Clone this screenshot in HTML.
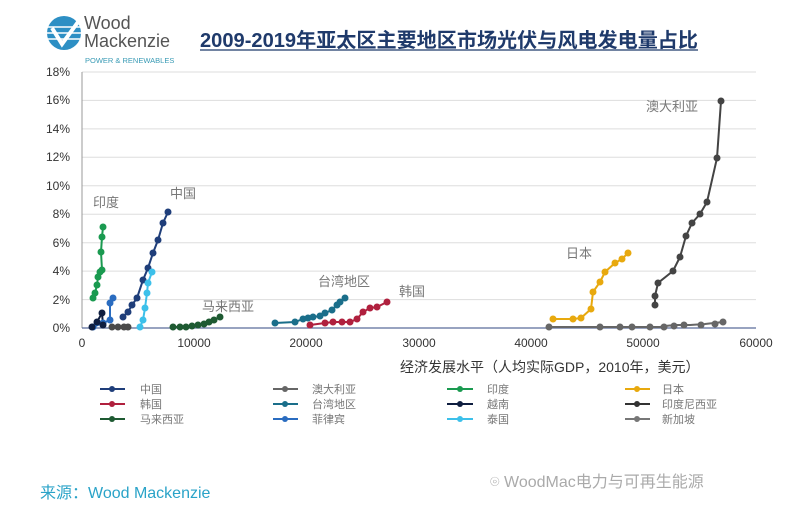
<!DOCTYPE html>
<html><head><meta charset="utf-8"><style>
body{margin:0;background:#fff;}
svg text{font-family:"Liberation Sans","Noto Sans CJK SC",sans-serif;}
</style></head><body>
<svg width="800" height="525" viewBox="0 0 800 525" xmlns="http://www.w3.org/2000/svg">
<rect width="800" height="525" fill="#fff"/>
<circle cx="64" cy="33" r="17" fill="#2d8fc4"/>
<g stroke="#fff" stroke-width="1.5"><line x1="47" y1="27" x2="81" y2="27"/><line x1="47" y1="33" x2="81" y2="33"/><line x1="48" y1="39" x2="80" y2="39"/></g>
<path d="M52 28 L62 44 L78 22" stroke="#fff" stroke-width="4" fill="none"/>
<text x="84" y="29" font-size="18" fill="#555">Wood</text>
<text x="84" y="47" font-size="18" fill="#555">Mackenzie</text>
<text x="85" y="63" font-size="7.5" fill="#3a9bb5">POWER &amp; RENEWABLES</text>
<text x="200" y="47" font-size="20" font-weight="bold" fill="#1f3a6b" textLength="498" lengthAdjust="spacingAndGlyphs">2009-2019年亚太区主要地区市场光伏与风电发电量占比</text>
<line x1="200" y1="50" x2="698" y2="50" stroke="#1f3a6b" stroke-width="1.2"/>
<g stroke="#ddd" stroke-width="1">
<line x1="82" y1="72" x2="756" y2="72"/><line x1="82" y1="100.4" x2="756" y2="100.4"/><line x1="82" y1="128.9" x2="756" y2="128.9"/><line x1="82" y1="157.3" x2="756" y2="157.3"/><line x1="82" y1="185.8" x2="756" y2="185.8"/><line x1="82" y1="214.2" x2="756" y2="214.2"/><line x1="82" y1="242.7" x2="756" y2="242.7"/><line x1="82" y1="271.1" x2="756" y2="271.1"/><line x1="82" y1="299.6" x2="756" y2="299.6"/>
</g>
<line x1="82" y1="72" x2="82" y2="328" stroke="#999"/>
<line x1="82" y1="328" x2="756" y2="328" stroke="#5a6c9a" stroke-width="1.2"/>
<g font-size="12" fill="#333" text-anchor="end">
<text x="70" y="76">18%</text><text x="70" y="104">16%</text><text x="70" y="133">14%</text><text x="70" y="161">12%</text><text x="70" y="190">10%</text><text x="70" y="218">8%</text><text x="70" y="247">6%</text><text x="70" y="275">4%</text><text x="70" y="304">2%</text><text x="70" y="332">0%</text>
</g>
<g font-size="12" fill="#333" text-anchor="middle">
<text x="82" y="347">0</text><text x="194" y="347">10000</text><text x="306" y="347">20000</text><text x="419" y="347">30000</text><text x="531" y="347">40000</text><text x="643" y="347">50000</text><text x="756" y="347">60000</text>
</g>
<text x="400" y="372" font-size="14" fill="#333">经济发展水平（人均实际GDP，2010年，美元）</text>
<g fill="none" stroke-width="2">
<polyline stroke="#666" points="549,327 580,327 620,327 640,327 650,327 660,327 665,326 675,325 690,325 705,324 723,322"/>
<polyline stroke="#444" points="655,305 655,296 658,283 673,271 680,257 686,236 692,223 700,214 707,202 717,158 721,101"/>
<polyline stroke="#e8a90e" points="553,319 573,319 581,318 591,309 593,292 600,282 605,272 615,263 622,259 628,253"/>
<polyline stroke="#1a6e8a" points="275,323 295,322 303,319 308,318 313,317 320,316 325,313 332,310 337,305 340,302 345,298"/>
<polyline stroke="#b0203e" points="310,325 325,323 333,322 342,322 350,322 357,319 363,312 370,308 377,307 387,302"/>
<polyline stroke="#1e5a32" points="173,327 180,327 186,327 192,326 198,325 204,324 209,322 214,320 220,317"/>
<polyline stroke="#4a4a4a" points="112,327 118,327 124,327 128,327"/>
<polyline stroke="#1a9a50" points="93,298 95,293 97,285 98,277 100,272 102,270 101,252 102,237 103,227"/>
<polyline stroke="#1f3e7a" points="123,317 128,312 132,305 137,298 143,280 148,268 153,253 158,240 163,223 168,212"/>
<polyline stroke="#2a6cc0" points="93,327 103,323 110,320 110,303 113,298"/>
<polyline stroke="#0f1e40" points="92,327 97,322 102,313 103,325"/>
<polyline stroke="#3cc0ea" points="140,327 143,320 145,308 147,293 148,283 152,272"/>
</g>
<g>
<g fill="#666"><circle cx="549" cy="327" r="3.5"/><circle cx="600" cy="327" r="3.5"/><circle cx="620" cy="327" r="3.5"/><circle cx="632" cy="327" r="3.5"/><circle cx="650" cy="327" r="3.5"/><circle cx="664" cy="327" r="3.5"/><circle cx="674" cy="326" r="3.5"/><circle cx="684" cy="325" r="3.5"/><circle cx="701" cy="325" r="3.5"/><circle cx="715" cy="324" r="3.5"/><circle cx="723" cy="322" r="3.5"/></g>
<g fill="#444"><circle cx="655" cy="305" r="3.5"/><circle cx="655" cy="296" r="3.5"/><circle cx="658" cy="283" r="3.5"/><circle cx="673" cy="271" r="3.5"/><circle cx="680" cy="257" r="3.5"/><circle cx="686" cy="236" r="3.5"/><circle cx="692" cy="223" r="3.5"/><circle cx="700" cy="214" r="3.5"/><circle cx="707" cy="202" r="3.5"/><circle cx="717" cy="158" r="3.5"/><circle cx="721" cy="101" r="3.5"/></g>
<g fill="#e8a90e"><circle cx="553" cy="319" r="3.5"/><circle cx="573" cy="319" r="3.5"/><circle cx="581" cy="318" r="3.5"/><circle cx="591" cy="309" r="3.5"/><circle cx="593" cy="292" r="3.5"/><circle cx="600" cy="282" r="3.5"/><circle cx="605" cy="272" r="3.5"/><circle cx="615" cy="263" r="3.5"/><circle cx="622" cy="259" r="3.5"/><circle cx="628" cy="253" r="3.5"/></g>
<g fill="#1a6e8a"><circle cx="275" cy="323" r="3.5"/><circle cx="295" cy="322" r="3.5"/><circle cx="303" cy="319" r="3.5"/><circle cx="308" cy="318" r="3.5"/><circle cx="313" cy="317" r="3.5"/><circle cx="320" cy="316" r="3.5"/><circle cx="325" cy="313" r="3.5"/><circle cx="332" cy="310" r="3.5"/><circle cx="337" cy="305" r="3.5"/><circle cx="340" cy="302" r="3.5"/><circle cx="345" cy="298" r="3.5"/></g>
<g fill="#b0203e"><circle cx="310" cy="325" r="3.5"/><circle cx="325" cy="323" r="3.5"/><circle cx="333" cy="322" r="3.5"/><circle cx="342" cy="322" r="3.5"/><circle cx="350" cy="322" r="3.5"/><circle cx="357" cy="319" r="3.5"/><circle cx="363" cy="312" r="3.5"/><circle cx="370" cy="308" r="3.5"/><circle cx="377" cy="307" r="3.5"/><circle cx="387" cy="302" r="3.5"/></g>
<g fill="#1e5a32"><circle cx="173" cy="327" r="3.5"/><circle cx="180" cy="327" r="3.5"/><circle cx="186" cy="327" r="3.5"/><circle cx="192" cy="326" r="3.5"/><circle cx="198" cy="325" r="3.5"/><circle cx="204" cy="324" r="3.5"/><circle cx="209" cy="322" r="3.5"/><circle cx="214" cy="320" r="3.5"/><circle cx="220" cy="317" r="3.5"/></g>
<g fill="#4a4a4a"><circle cx="112" cy="327" r="3.5"/><circle cx="118" cy="327" r="3.5"/><circle cx="124" cy="327" r="3.5"/><circle cx="128" cy="327" r="3.5"/></g>
<g fill="#1a9a50"><circle cx="93" cy="298" r="3.5"/><circle cx="95" cy="293" r="3.5"/><circle cx="97" cy="285" r="3.5"/><circle cx="98" cy="277" r="3.5"/><circle cx="100" cy="272" r="3.5"/><circle cx="102" cy="270" r="3.5"/><circle cx="101" cy="252" r="3.5"/><circle cx="102" cy="237" r="3.5"/><circle cx="103" cy="227" r="3.5"/></g>
<g fill="#1f3e7a"><circle cx="123" cy="317" r="3.5"/><circle cx="128" cy="312" r="3.5"/><circle cx="132" cy="305" r="3.5"/><circle cx="137" cy="298" r="3.5"/><circle cx="143" cy="280" r="3.5"/><circle cx="148" cy="268" r="3.5"/><circle cx="153" cy="253" r="3.5"/><circle cx="158" cy="240" r="3.5"/><circle cx="163" cy="223" r="3.5"/><circle cx="168" cy="212" r="3.5"/></g>
<g fill="#2a6cc0"><circle cx="93" cy="327" r="3.5"/><circle cx="103" cy="323" r="3.5"/><circle cx="110" cy="320" r="3.5"/><circle cx="110" cy="303" r="3.5"/><circle cx="113" cy="298" r="3.5"/></g>
<g fill="#0f1e40"><circle cx="92" cy="327" r="3.5"/><circle cx="97" cy="322" r="3.5"/><circle cx="102" cy="313" r="3.5"/><circle cx="103" cy="325" r="3.5"/></g>
<g fill="#3cc0ea"><circle cx="140" cy="327" r="3.5"/><circle cx="143" cy="320" r="3.5"/><circle cx="145" cy="308" r="3.5"/><circle cx="147" cy="293" r="3.5"/><circle cx="148" cy="283" r="3.5"/><circle cx="152" cy="272" r="3.5"/></g>
</g>
<g font-size="13" fill="#777">
<text x="93" y="207">印度</text><text x="170" y="198">中国</text><text x="202" y="311">马来西亚</text><text x="318" y="286">台湾地区</text><text x="399" y="296">韩国</text><text x="566" y="258">日本</text><text x="646" y="111">澳大利亚</text>
</g>
<g stroke-width="2">
<line x1="100" y1="389" x2="125" y2="389" stroke="#1f3e7a"/><circle cx="112" cy="389" r="3" fill="#1f3e7a"/>
<line x1="100" y1="404" x2="125" y2="404" stroke="#b0203e"/><circle cx="112" cy="404" r="3" fill="#b0203e"/>
<line x1="100" y1="419" x2="125" y2="419" stroke="#1e5a32"/><circle cx="112" cy="419" r="3" fill="#1e5a32"/>
<line x1="273" y1="389" x2="298" y2="389" stroke="#666"/><circle cx="285" cy="389" r="3" fill="#666"/>
<line x1="273" y1="404" x2="298" y2="404" stroke="#1a6e8a"/><circle cx="285" cy="404" r="3" fill="#1a6e8a"/>
<line x1="273" y1="419" x2="298" y2="419" stroke="#2a6cc0"/><circle cx="285" cy="419" r="3" fill="#2a6cc0"/>
<line x1="447" y1="389" x2="473" y2="389" stroke="#1a9a50"/><circle cx="460" cy="389" r="3" fill="#1a9a50"/>
<line x1="447" y1="404" x2="473" y2="404" stroke="#0f1e40"/><circle cx="460" cy="404" r="3" fill="#0f1e40"/>
<line x1="447" y1="419" x2="473" y2="419" stroke="#3cc0ea"/><circle cx="460" cy="419" r="3" fill="#3cc0ea"/>
<line x1="625" y1="389" x2="650" y2="389" stroke="#e8a90e"/><circle cx="637" cy="389" r="3" fill="#e8a90e"/>
<line x1="625" y1="404" x2="650" y2="404" stroke="#333"/><circle cx="637" cy="404" r="3" fill="#333"/>
<line x1="625" y1="419" x2="650" y2="419" stroke="#777"/><circle cx="637" cy="419" r="3" fill="#777"/>
</g>
<g font-size="11" fill="#777">
<text x="140" y="393">中国</text><text x="140" y="408">韩国</text><text x="140" y="423">马来西亚</text>
<text x="312" y="393">澳大利亚</text><text x="312" y="408">台湾地区</text><text x="312" y="423">菲律宾</text>
<text x="487" y="393">印度</text><text x="487" y="408">越南</text><text x="487" y="423">泰国</text>
<text x="662" y="393">日本</text><text x="662" y="408">印度尼西亚</text><text x="662" y="423">新加坡</text>
</g>
<text x="40" y="498" font-size="16" fill="#2aa3c8">来源：Wood Mackenzie</text>
<text x="490" y="487" font-size="16" fill="#aaa">⌾ WoodMac电力与可再生能源</text>
</svg>
</body></html>
